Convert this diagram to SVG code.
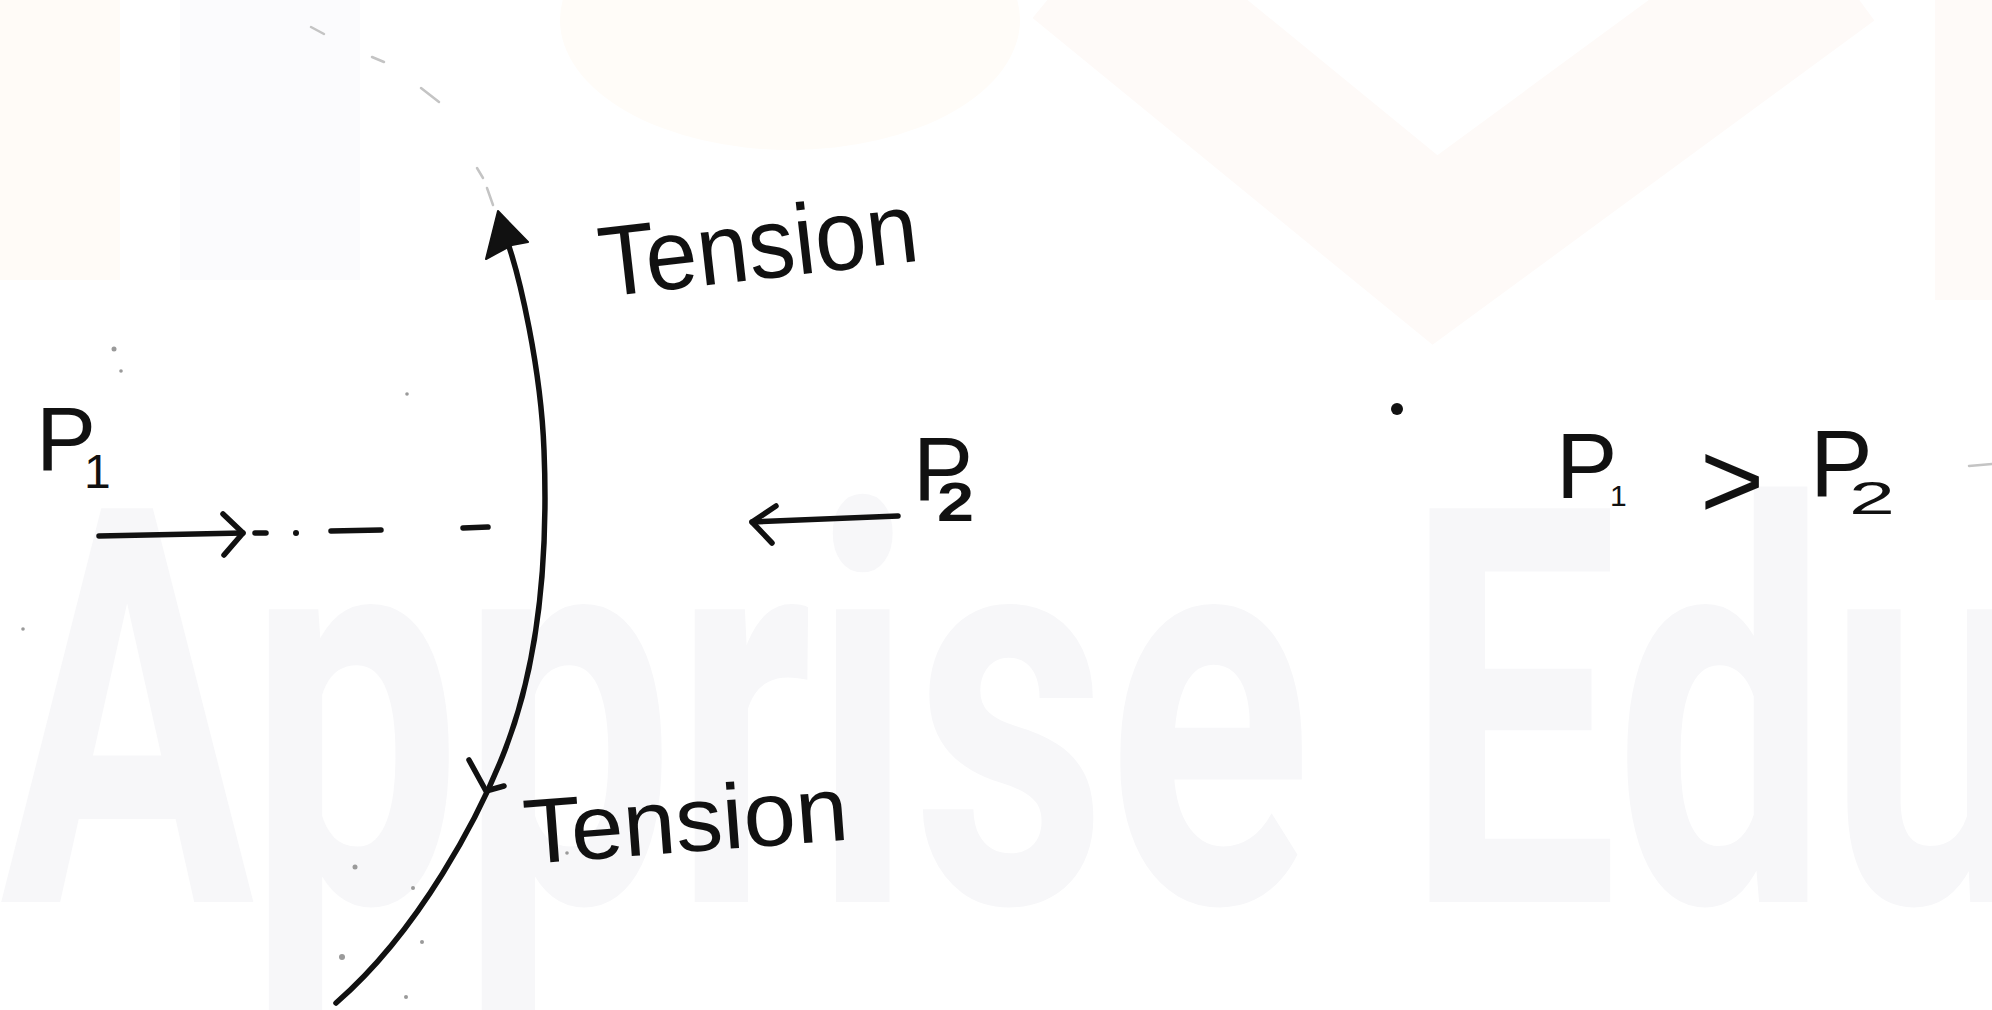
<svg xmlns="http://www.w3.org/2000/svg" width="1992" height="1010" viewBox="0 0 1992 1010">
  <style>
    .ink { fill: none; stroke: #111; stroke-width: 5.5; stroke-linecap: round; stroke-linejoin: round; }
    .faint { fill: none; stroke: #c4c4c4; stroke-width: 2.5; stroke-linecap: round; }
    .lbl { font-family: "Liberation Sans", Arial, sans-serif; fill: #111; }
    .speck { fill: #9a9a9a; }
    .wm { font-family: Roboto, "Liberation Sans", sans-serif; font-weight: bold; fill: #f7f7f9; }
  </style>
  <rect width="1992" height="1010" fill="#ffffff"/>

  <g id="watermark">
    <polyline points="1080,-40 1435,250 1830,-40" fill="none" stroke="#fefaf8" stroke-width="150" stroke-linejoin="miter"/>
    <ellipse cx="790" cy="20" rx="230" ry="130" fill="#fffcf8"/>
    <rect x="1935" y="0" width="57" height="300" fill="#fefaf8"/>
    <rect x="180" y="0" width="180" height="280" fill="#fbfbfd"/>
    <rect x="0" y="0" width="120" height="280" fill="#fffbf7"/>
    <text class="wm" x="0" y="902" font-size="554" textLength="2040" lengthAdjust="spacingAndGlyphs">Apprise Edu</text>
  </g>

  <g id="connectors">
    <!-- membrane curve -->
    <path id="membrane" class="ink" d="M 505 235 C 520 275, 541 370, 544 450 C 548 550, 540 660, 505 750 C 480 815, 420 930, 336 1003"/>
    <!-- faint dashed continuation at top -->
    <line class="faint" x1="311" y1="27" x2="324" y2="34"/>
    <line class="faint" x1="372" y1="57" x2="384" y2="62"/>
    <line class="faint" x1="421" y1="88" x2="439" y2="102"/>
    <line class="faint" x1="477" y1="168" x2="483" y2="178"/>
    <line class="faint" x1="487" y1="188" x2="493" y2="205"/>
    <!-- upward tension arrowhead (filled) -->
    <path d="M 498 211 L 528 242 L 512 245 L 486 259 Z" fill="#111" stroke="#111" stroke-width="2" stroke-linejoin="round"/>
    <!-- downward tension arrowhead -->
    <path class="ink" d="M 469 760 L 486 791 L 504 786"/>
    <!-- P1 arrow -->
    <line class="ink" x1="99" y1="536" x2="243" y2="533"/>
    <path class="ink" d="M 223 514 L 243 533 L 224 555"/>
    <line class="ink" x1="255" y1="533" x2="266" y2="533"/>
    <circle cx="296" cy="533" r="3" fill="#111"/>
    <line class="ink" x1="331" y1="531" x2="381" y2="530"/>
    <line class="ink" x1="463" y1="528" x2="488" y2="527"/>
    <!-- P2 arrow -->
    <line class="ink" x1="752" y1="522" x2="898" y2="516"/>
    <path class="ink" d="M 776 506 L 752 522 L 772 543"/>
  </g>

  <g id="label-tension-top">
    <text class="lbl" x="603" y="297" font-size="100" textLength="320" lengthAdjust="spacingAndGlyphs" transform="rotate(-6.5 603 297)">Tension</text>
  </g>
  <g id="label-tension-bottom">
    <text class="lbl" x="526" y="864" font-size="92" textLength="325" lengthAdjust="spacingAndGlyphs" transform="rotate(-4.3 526 864)">Tension</text>
  </g>
  <g id="label-p1">
    <text class="lbl" x="36" y="470" font-size="90">P</text>
    <text class="lbl" x="84" y="488" font-size="48">1</text>
  </g>
  <g id="label-p2">
    <text class="lbl" x="913" y="500" font-size="90">P</text>
    <text class="lbl" x="937" y="521" font-size="55" font-weight="bold" textLength="37" lengthAdjust="spacingAndGlyphs">2</text>
  </g>
  <g id="label-relation">
    <circle cx="1397" cy="409" r="6" fill="#111"/>
    <text class="lbl" x="1556" y="498" font-size="92">P</text>
    <text class="lbl" x="1610" y="506" font-size="30">1</text>
    <text class="lbl" x="1700" y="518" font-size="110">&gt;</text>
    <text class="lbl" x="1810" y="496" font-size="94">P</text>
    <text class="lbl" x="1849" y="514" font-size="46" textLength="46" lengthAdjust="spacingAndGlyphs">2</text>
    <line class="faint" x1="1969" y1="466" x2="1992" y2="464"/>
  </g>

  <g id="specks">
    <circle class="speck" cx="114" cy="349" r="2.5"/>
    <circle class="speck" cx="121" cy="371" r="1.8"/>
    <circle class="speck" cx="407" cy="394" r="1.8"/>
    <circle class="speck" cx="23" cy="629" r="1.8"/>
    <circle class="speck" cx="355" cy="867" r="2.5"/>
    <circle class="speck" cx="342" cy="957" r="3"/>
    <circle class="speck" cx="413" cy="888" r="2"/>
    <circle class="speck" cx="422" cy="942" r="2"/>
    <circle class="speck" cx="406" cy="997" r="2"/>
    <circle class="speck" cx="567" cy="853" r="1.8"/>
  </g>
</svg>
